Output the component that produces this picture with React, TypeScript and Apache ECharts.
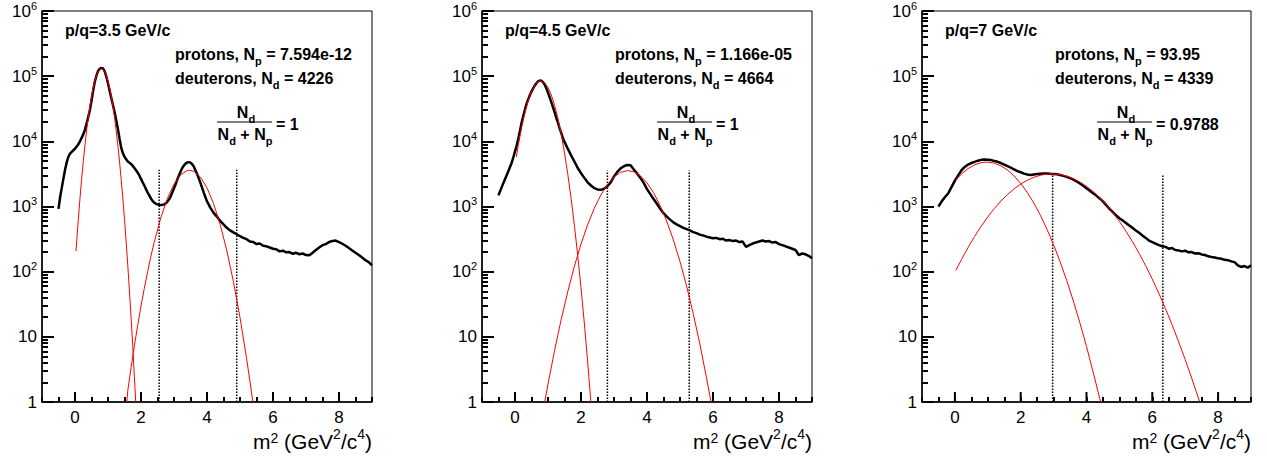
import React, { useEffect, useRef } from 'react';
import * as echarts from 'echarts';

// ---- text content ----
const momentumLabels = ['p/q=3.5 GeV/c', 'p/q=4.5 GeV/c', 'p/q=7 GeV/c'];
const protonCounts = ['7.594e-12', '1.166e-05', '93.95'];
const deuteronCounts = ['4226', '4664', '4339'];
const ratioValues = ['1', '1', '0.9788'];

// ---- measured m^2 spectra (black) ----
const spectrum1: number[][] = [
  [-0.5, 920], [-0.45, 1400], [-0.4, 1950], [-0.35, 2700], [-0.3, 3700], [-0.25, 4800], [-0.2, 5800],
  [-0.15, 6500], [-0.1, 6900], [-0.05, 7300], [0, 7700], [0.05, 8300], [0.1, 9000], [0.15, 10000],
  [0.2, 11300], [0.25, 12800], [0.3, 15000], [0.35, 18500], [0.4, 23500], [0.45, 30000], [0.5, 42000],
  [0.55, 60000], [0.6, 82000], [0.65, 102000], [0.7, 120000], [0.75, 130000], [0.8, 134000],
  [0.85, 131000], [0.9, 118000], [0.95, 98000], [1.0, 78000], [1.05, 60000], [1.1, 46000],
  [1.15, 36000], [1.2, 28000], [1.25, 21000], [1.3, 15500], [1.35, 11000], [1.4, 8000], [1.45, 6600],
  [1.5, 5800], [1.55, 5300], [1.6, 4900], [1.65, 4700], [1.7, 4500], [1.75, 4200], [1.8, 3900],
  [1.85, 3600], [1.9, 3300], [1.95, 3000], [2.0, 2650], [2.05, 2350], [2.1, 2100], [2.15, 1850],
  [2.2, 1640], [2.25, 1480], [2.3, 1330], [2.35, 1220], [2.4, 1150], [2.45, 1100], [2.5, 1080],
  [2.55, 1060], [2.6, 1050], [2.65, 1060], [2.7, 1070], [2.75, 1120], [2.8, 1190], [2.85, 1280],
  [2.9, 1430], [2.95, 1650], [3.0, 1900], [3.05, 2200], [3.1, 2600], [3.15, 3000], [3.2, 3450],
  [3.25, 3900], [3.3, 4250], [3.35, 4550], [3.4, 4750], [3.45, 4800], [3.5, 4700], [3.55, 4450],
  [3.6, 4100], [3.65, 3600], [3.7, 3150], [3.75, 2700], [3.8, 2300], [3.85, 1950], [3.9, 1650],
  [3.95, 1400], [4.0, 1200], [4.05, 1080], [4.1, 960], [4.2, 800], [4.3, 700], [4.4, 600], [4.5, 530],
  [4.6, 470], [4.7, 430], [4.8, 400], [4.9, 375], [5.0, 350], [5.1, 330], [5.2, 315], [5.3, 290],
  [5.4, 285], [5.5, 265], [5.6, 270], [5.7, 250], [5.8, 245], [5.9, 235], [6.0, 225], [6.1, 220],
  [6.2, 205], [6.3, 210], [6.4, 198], [6.5, 200], [6.6, 188], [6.7, 195], [6.8, 185], [6.9, 190],
  [7.0, 180], [7.1, 178], [7.2, 195], [7.3, 215], [7.4, 235], [7.5, 255], [7.6, 265], [7.7, 285],
  [7.8, 295], [7.9, 300], [8.0, 285], [8.1, 268], [8.2, 250], [8.3, 230], [8.4, 212], [8.5, 195],
  [8.6, 180], [8.7, 165], [8.8, 150], [8.9, 140], [9.0, 125],
];
const spectrum2: number[][] = [
  [-0.5, 1480], [-0.4, 2000], [-0.3, 2650], [-0.2, 3500], [-0.1, 4700], [-0.05, 5700], [0, 7000],
  [0.05, 8600], [0.1, 11000], [0.15, 14500], [0.2, 19300], [0.25, 24500], [0.3, 30500], [0.35, 37500],
  [0.4, 44000], [0.45, 51000], [0.5, 58000], [0.55, 65000], [0.6, 72000], [0.65, 78000], [0.7, 83000],
  [0.75, 85500], [0.8, 85000], [0.85, 81000], [0.9, 74000], [0.95, 65000], [1.0, 56000], [1.05, 47500],
  [1.1, 40000], [1.15, 33500], [1.2, 28000], [1.25, 23000], [1.3, 19500], [1.35, 16000], [1.4, 13500],
  [1.45, 11300], [1.5, 9800], [1.6, 7700], [1.7, 6100], [1.8, 4900], [1.9, 3900], [2.0, 3250],
  [2.1, 2750], [2.2, 2350], [2.3, 2100], [2.4, 1920], [2.5, 1830], [2.6, 1800], [2.7, 1870],
  [2.8, 2050], [2.9, 2350], [3.0, 2900], [3.1, 3400], [3.2, 3850], [3.3, 4150], [3.4, 4350],
  [3.5, 4300], [3.6, 3700], [3.7, 3200], [3.8, 2750], [3.9, 2300], [4.0, 1850], [4.1, 1550],
  [4.2, 1300], [4.3, 1100], [4.4, 920], [4.5, 790], [4.6, 700], [4.7, 630], [4.8, 570], [4.9, 530],
  [5.0, 500], [5.1, 470], [5.2, 450], [5.3, 430], [5.4, 405], [5.5, 390], [5.6, 370], [5.7, 360],
  [5.8, 345], [5.9, 335], [6.0, 325], [6.1, 330], [6.2, 315], [6.3, 320], [6.4, 300], [6.5, 305],
  [6.6, 295], [6.7, 300], [6.8, 285], [6.9, 290], [7.0, 240], [7.1, 255], [7.2, 270], [7.3, 280],
  [7.4, 290], [7.5, 300], [7.6, 290], [7.7, 295], [7.8, 280], [7.9, 285], [8.0, 265], [8.1, 255],
  [8.2, 245], [8.3, 235], [8.4, 225], [8.5, 215], [8.6, 180], [8.7, 190], [8.8, 185], [8.9, 175],
  [9.0, 160],
];
const spectrum3: number[][] = [
  [-0.5, 1000], [-0.4, 1200], [-0.3, 1400], [-0.2, 1600], [-0.1, 2000], [0, 2500], [0.1, 3000],
  [0.2, 3600], [0.3, 4050], [0.4, 4400], [0.5, 4650], [0.6, 4850], [0.7, 5050], [0.8, 5200],
  [0.9, 5250], [1.0, 5200], [1.1, 5150], [1.2, 5000], [1.3, 4850], [1.4, 4650], [1.5, 4400],
  [1.6, 4150], [1.7, 3950], [1.8, 3700], [1.9, 3500], [2.0, 3350], [2.1, 3200], [2.2, 3100],
  [2.3, 3050], [2.4, 3100], [2.5, 3150], [2.6, 3180], [2.7, 3200], [2.8, 3220], [2.9, 3180],
  [3.0, 3150], [3.1, 3120], [3.2, 3050], [3.3, 2950], [3.4, 2850], [3.5, 2720], [3.6, 2580],
  [3.7, 2420], [3.8, 2250], [3.9, 2080], [4.0, 1900], [4.1, 1750], [4.2, 1600], [4.3, 1470],
  [4.4, 1330], [4.5, 1200], [4.6, 1050], [4.7, 920], [4.8, 820], [4.9, 730], [5.0, 660], [5.1, 610],
  [5.2, 560], [5.3, 510], [5.4, 470], [5.5, 430], [5.6, 395], [5.7, 360], [5.8, 330], [5.9, 300],
  [6.0, 285], [6.1, 270], [6.2, 255], [6.3, 245], [6.4, 240], [6.5, 225], [6.6, 230], [6.7, 215],
  [6.8, 212], [6.9, 205], [7.0, 210], [7.1, 198], [7.2, 200], [7.3, 190], [7.4, 192], [7.5, 184],
  [7.6, 180], [7.7, 172], [7.8, 168], [7.9, 165], [8.0, 160], [8.1, 158], [8.2, 152], [8.3, 150],
  [8.4, 144], [8.5, 140], [8.6, 125], [8.7, 118], [8.8, 122], [8.9, 115], [9.0, 125],
];

// ---- fitted curves (red) ----
const protonFit1: number[][] = [
  [0.03, 207], [0.05, 287], [0.1, 630], [0.15, 1317], [0.2, 2600], [0.25, 4850], [0.3, 8560],
  [0.35, 14400], [0.4, 22800], [0.45, 34300], [0.5, 48900], [0.55, 65900], [0.6, 84200],
  [0.65, 101800], [0.7, 116600], [0.75, 126500], [0.8, 130000], [0.85, 126500], [0.9, 116600],
  [0.95, 101800], [1.0, 84200], [1.05, 65900], [1.1, 48900], [1.15, 34300], [1.2, 22800],
  [1.25, 14400], [1.3, 8560], [1.35, 4850], [1.4, 2600], [1.45, 1317], [1.5, 630], [1.55, 287],
  [1.6, 124], [1.65, 50.6], [1.7, 19.5], [1.75, 7.1], [1.8, 2.4], [1.84, 1.0],
];
const deuteronFit1: number[][] = [
  [1.57, 1.0], [1.6, 1.5], [1.7, 3.4], [1.8, 7.3], [1.9, 15], [2.0, 29.6], [2.1, 55.6], [2.2, 100],
  [2.3, 172], [2.4, 283], [2.6, 670], [2.8, 1328], [3.0, 2203], [3.2, 3062], [3.4, 3561],
  [3.47, 3600], [3.6, 3467], [3.8, 2826], [4.0, 1929], [4.2, 1102], [4.4, 527], [4.6, 211],
  [4.8, 70.6], [5.0, 19.8], [5.2, 4.65], [5.3, 2.1], [5.39, 1.0],
];
const protonFit2: number[][] = [
  [0.04, 5770], [0.1, 8770], [0.2, 16300], [0.3, 27400], [0.4, 41800], [0.5, 57800], [0.6, 72500],
  [0.7, 82400], [0.78, 85000], [0.9, 79200], [1.0, 67000], [1.1, 51400], [1.2, 35800], [1.3, 22500],
  [1.4, 12900], [1.5, 6660], [1.6, 3120], [1.7, 1330], [1.8, 513], [1.9, 179], [2.0, 56.9],
  [2.1, 16.3], [2.2, 4.24], [2.3, 1.0],
];
const deuteronFit2: number[][] = [
  [0.9, 1.0], [1.0, 1.88], [1.2, 6.2], [1.4, 18.5], [1.6, 49.8], [1.8, 121], [2.0, 265], [2.2, 523],
  [2.4, 931], [2.6, 1497], [2.8, 2170], [3.0, 2836], [3.2, 3345], [3.42, 3560], [3.6, 3414],
  [3.8, 2955], [4.0, 2308], [4.2, 1626], [4.4, 1033], [4.6, 592], [4.8, 306], [5.0, 143], [5.2, 60],
  [5.4, 22.8], [5.6, 7.8], [5.8, 2.4], [5.94, 1.0],
];
const protonFit3: number[][] = [
  [0.03, 2565], [0.2, 3152], [0.4, 3812], [0.6, 4356], [0.8, 4703], [0.97, 4800], [1.2, 4623],
  [1.4, 4210], [1.6, 3623], [1.8, 2945], [2.0, 2262], [2.2, 1642], [2.4, 1126], [2.6, 730],
  [2.8, 446], [3.0, 258], [3.2, 141], [3.4, 72.9], [3.6, 35.5], [3.8, 16.4], [4.0, 7.1], [4.2, 2.9],
  [4.4, 1.14], [4.43, 1.0],
];
const deuteronFit3: number[][] = [
  [0.03, 105], [0.2, 154], [0.4, 235], [0.6, 348], [0.8, 499], [1.0, 693], [1.2, 931], [1.4, 1213],
  [1.6, 1529], [1.8, 1868], [2.0, 2209], [2.2, 2531], [2.4, 2809], [2.6, 3018], [2.8, 3142],
  [2.95, 3170], [3.2, 3092], [3.4, 2923], [3.6, 2677], [3.8, 2374], [4.0, 2040], [4.2, 1697],
  [4.4, 1367], [4.6, 1067], [4.8, 806], [5.0, 590], [5.2, 418], [5.4, 287], [5.6, 191], [5.8, 123],
  [6.0, 76.8], [6.2, 46.3], [6.4, 27.1], [6.6, 15.4], [6.8, 8.4], [7.0, 4.48], [7.2, 2.31],
  [7.4, 1.15], [7.45, 1.0],
];

// ---- selection cuts (dotted) ----
const cutPositions = [[2.55, 4.9], [2.8, 5.28], [2.97, 6.32]];
const cutHeights = [3650, 3560, 3100];

// ---- axis ticks ----
const xLabelValues = [0, 2, 4, 6, 8];
const xMajorTicks = [0, 2, 4, 6, 8];

const spectra = [spectrum1, spectrum2, spectrum3];
const protonFits = [protonFit1, protonFit2, protonFit3];
const deuteronFits = [deuteronFit1, deuteronFit2, deuteronFit3];

const FONT = '"Liberation Sans", Arial, Helvetica, sans-serif';
const GRID_LEFT = [42, 482, 922];
const GRID_W = [330, 330, 329];
const GRID_TOP = 10;
const GRID_H = 392;
const TICK_COLOR = '#000000';
const TICK_WIDTH = 2;

function buildOption() {
  const grids: any[] = [];
  const xAxes: any[] = [];
  const yAxes: any[] = [];
  const series: any[] = [];
  const graphics: any[] = [];

  for (let i = 0; i < 3; i++) {
    grids.push({
      left: GRID_LEFT[i], top: GRID_TOP, width: GRID_W[i], height: GRID_H,
      show: true, borderColor: '#000', borderWidth: 1,
    });
    xAxes.push({
      type: 'value', gridIndex: i, min: -1, max: 9, interval: 0.5,
      axisLine: { show: true, onZero: false, lineStyle: { color: '#000', width: 1.5 } },
      axisTick: { show: true, inside: true, length: 5, lineStyle: { color: TICK_COLOR, width: TICK_WIDTH } },
      splitLine: { show: false },
      axisLabel: {
        color: '#000', fontSize: 17, fontFamily: FONT, margin: 7,
        formatter: (v: number) => (xLabelValues.includes(Math.round(v * 100) / 100) ? String(Math.round(v)) : ''),
      },
    });
    yAxes.push({
      type: 'log', gridIndex: i, min: 1, max: 1000000, splitNumber: 6,
      axisLine: { show: true, onZero: false, lineStyle: { color: '#000', width: 1.5 } },
      axisTick: { show: true, inside: true, length: 12, lineStyle: { color: TICK_COLOR, width: TICK_WIDTH } },
      minorTick: { show: true, splitNumber: 9, length: 6, lineStyle: { color: TICK_COLOR, width: TICK_WIDTH } },
      splitLine: { show: false },
      axisLabel: {
        color: '#000', fontSize: 17, fontFamily: FONT, margin: 5,
        formatter: (v: number) => {
          const e = Math.round(Math.log10(v));
          if (e === 0) return '1';
          if (e === 1) return '10';
          return '10{s|' + e + '}';
        },
        rich: { s: { fontSize: 11, fontFamily: FONT, color: '#000', padding: [0, 0, 11, 0] } },
      },
    });

    series.push({
      type: 'line', xAxisIndex: i, yAxisIndex: i, data: spectra[i], showSymbol: false,
      lineStyle: { color: '#000', width: 2.5 }, z: 3,
    });
    series.push({
      type: 'line', xAxisIndex: i, yAxisIndex: i, data: protonFits[i], showSymbol: false,
      lineStyle: { color: '#ff0000', width: 1 }, z: 4,
    });
    series.push({
      type: 'line', xAxisIndex: i, yAxisIndex: i, data: deuteronFits[i], showSymbol: false,
      lineStyle: { color: '#ff0000', width: 1 }, z: 4,
    });
    cutPositions[i].forEach((c) => {
      series.push({
        type: 'line', xAxisIndex: i, yAxisIndex: i, data: [[c, 1], [c, cutHeights[i]]], showSymbol: false,
        lineStyle: { color: '#000', width: 1.5, type: [1.5, 1.5] }, z: 2,
      });
    });
    // long ticks at the labelled x values
    series.push({
      type: 'custom', xAxisIndex: i, yAxisIndex: i,
      data: xMajorTicks.map((v) => [v, 1]),
      renderItem: (_p: any, api: any) => {
        const p = api.coord([api.value(0), api.value(1)]);
        return {
          type: 'line',
          shape: { x1: p[0], y1: p[1], x2: p[0], y2: p[1] - 10 },
          style: { stroke: TICK_COLOR, lineWidth: TICK_WIDTH },
        };
      },
    });

    const ox = GRID_LEFT[i] - GRID_LEFT[0];
    const subRich = {
      sub: { fontSize: 11, fontWeight: 'bold', fontFamily: FONT, fill: '#000', padding: [13, 0, 0, 0] },
    };
    const boldBase = () => ({ fontSize: 16, fontWeight: 'bold', fontFamily: FONT, fill: '#000' });
    graphics.push({
      type: 'text', x: 65 + ox, y: 30,
      style: { ...boldBase(), text: momentumLabels[i], align: 'left', verticalAlign: 'middle' },
    });
    graphics.push({
      type: 'text', x: 175 + ox, y: 54,
      style: { ...boldBase(), text: 'protons, N{sub|p} = ' + protonCounts[i], align: 'left', verticalAlign: 'middle', rich: subRich },
    });
    graphics.push({
      type: 'text', x: 175 + ox, y: 78,
      style: { ...boldBase(), text: 'deuterons, N{sub|d} = ' + deuteronCounts[i], align: 'left', verticalAlign: 'middle', rich: subRich },
    });
    graphics.push({
      type: 'text', x: 246 + ox, y: 112,
      style: { ...boldBase(), text: 'N{sub|d}', align: 'center', verticalAlign: 'middle', rich: subRich },
    });
    graphics.push({
      type: 'line', shape: { x1: 217 + ox, y1: 122, x2: 272 + ox, y2: 122 },
      style: { stroke: '#000', lineWidth: 1 },
    });
    graphics.push({
      type: 'text', x: 245 + ox, y: 134,
      style: { ...boldBase(), text: 'N{sub|d} + N{sub|p}', align: 'center', verticalAlign: 'middle', rich: subRich },
    });
    graphics.push({
      type: 'text', x: 276 + ox, y: 124,
      style: { ...boldBase(), text: '= ' + ratioValues[i], align: 'left', verticalAlign: 'middle' },
    });
    graphics.push({
      type: 'text', x: GRID_LEFT[i] + GRID_W[i], y: 441,
      style: {
        text: 'm{a|2} (GeV{b|2}/c{b|4})', fontSize: 21, fontFamily: FONT, fill: '#000',
        align: 'right', verticalAlign: 'middle',
        rich: {
          a: { fontSize: 14, fontFamily: FONT, fill: '#000', padding: [0, 0, 6, 0] },
          b: { fontSize: 14, fontFamily: FONT, fill: '#000', padding: [0, 0, 15, 0] },
        },
      },
    });
  }

  return {
    animation: false,
    grid: grids,
    xAxis: xAxes,
    yAxis: yAxes,
    series,
    graphic: { elements: graphics },
  };
}

export default function App() {
  const ref = useRef<HTMLDivElement>(null);
  useEffect(() => {
    if (!ref.current) return;
    const chart = echarts.init(ref.current, undefined, { renderer: 'svg' });
    chart.setOption(buildOption() as any);
    return () => chart.dispose();
  }, []);
  return <div ref={ref} style={{ position: 'absolute', left: 0, top: 0, width: 1267, height: 460 }} />;
}
